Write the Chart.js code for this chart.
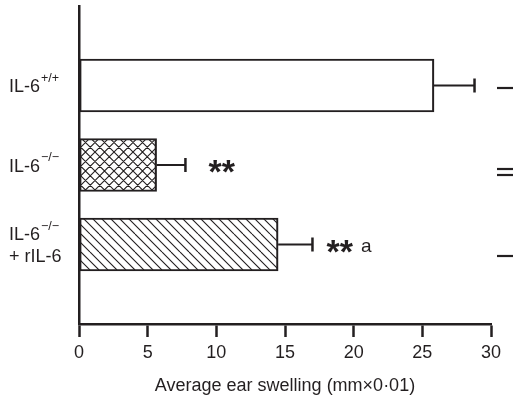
<!DOCTYPE html>
<html>
<head>
<meta charset="utf-8">
<script src="https://cdn.jsdelivr.net/npm/chart.js@4"></script>
<style>
  html, body { margin: 0; padding: 0; background: #fff; }
  #wrap { width: 513px; height: 397px; }
</style>
</head>
<body>
<div id="wrap"><canvas id="myChart"></canvas></div>
<script>
// groups top to bottom
const groups = ['IL-6 +/+', 'IL-6 -/-', 'IL-6 -/- + rIL-6'];
const means = [25.85, 5.65, 14.5];
const errors = [2.95, 2.1, 2.5];
const xTicks = [0, 5, 10, 15, 20, 25, 30];

// label pieces for the y axis (main text, superscript, 2nd line)
const labelMain = ['IL-6', 'IL-6', 'IL-6'];
const labelSup = ['+/+', '\u2212/\u2212', '\u2212/\u2212'];
const labelLine2 = ['', '', '+ rIL-6'];

// significance marks
const sigText = ['', '**', '**'];
const sigX = [null, 9.5, 18.1];
const sigNote = ['', '', 'a'];

const INK = '#231f20';
const FONT = '"Liberation Sans", Arial, sans-serif';

function makePattern(kind) {
  const s = kind === 'cross' ? 9.5 : 9;
  const c = document.createElement('canvas');
  c.width = s * 2; c.height = s * 2;
  const g = c.getContext('2d');
  g.fillStyle = '#fff';
  g.fillRect(0, 0, c.width, c.height);
  g.strokeStyle = INK;
  g.lineWidth = 1.1;
  g.beginPath();
  for (let k = -2; k <= 2; k++) {
    // "\" lines
    g.moveTo(k * s, 0); g.lineTo(k * s + c.width, c.height);
    if (kind === 'cross') {
      g.moveTo(k * s, c.height); g.lineTo(k * s + c.width, 0);
    }
  }
  g.stroke();
  return g.createPattern(c, 'repeat');
}

const fills = ['#ffffff', makePattern('cross'), makePattern('diag')];

const overlay = {
  id: 'overlay',
  afterDatasetsDraw(chart) {
    const ctx = chart.ctx;
    const xs = chart.scales.x, ys = chart.scales.y;
    ctx.save();
    ctx.strokeStyle = INK;
    ctx.fillStyle = INK;
    // error bars
    groups.forEach((g, i) => {
      const y = ys.getPixelForValue(i + 1);
      const x0 = xs.getPixelForValue(means[i]);
      const x1 = xs.getPixelForValue(means[i] + errors[i]);
      ctx.lineWidth = 2;
      ctx.beginPath();
      ctx.moveTo(x0, y); ctx.lineTo(x1, y);
      ctx.stroke();
      ctx.lineWidth = 2.5;
      ctx.beginPath();
      ctx.moveTo(x1, y - 7); ctx.lineTo(x1, y + 7);
      ctx.stroke();
    });
    // significance stars
    groups.forEach((g, i) => {
      if (!sigText[i]) return;
      const y = ys.getPixelForValue(i + 1);
      const x = xs.getPixelForValue(sigX[i]);
      ctx.font = 'bold 34px ' + FONT;
      ctx.textAlign = 'left';
      ctx.textBaseline = 'middle';
      ctx.fillText(sigText[i], x - 1, y + 9);
      const w = ctx.measureText(sigText[i]).width;
      if (sigNote[i]) {
        ctx.font = '19px ' + FONT;
        ctx.fillText(sigNote[i], x + w + 7, y + 2);
      }
    });
    // y labels with superscripts
    groups.forEach((g, i) => {
      const yc = ys.getPixelForValue(i + 1);
      const two = !!labelLine2[i];
      const y1 = two ? yc - 9 : yc + 2;
      ctx.textAlign = 'left';
      ctx.textBaseline = 'middle';
      ctx.font = '18px ' + FONT;
      ctx.fillText(labelMain[i], 9, y1);
      const w = ctx.measureText(labelMain[i]).width;
      ctx.font = '12.5px ' + FONT;
      ctx.fillText(labelSup[i], 9 + w + 1, y1 - 9);
      if (two) {
        ctx.font = '18px ' + FONT;
        ctx.fillText(labelLine2[i], 9, y1 + 22);
      }
    });
    // cut-off marks at the right edge
    ctx.lineWidth = 2.2;
    [88, 169, 175, 256].forEach(y => {
      ctx.beginPath();
      ctx.moveTo(497, y); ctx.lineTo(513, y);
      ctx.stroke();
    });
    ctx.restore();
  }
};

new Chart('myChart', {
  type: 'bar',
  data: {
    labels: ['', ...groups, ''],
    datasets: [{
      data: [null, ...means, null],
      backgroundColor: ['#fff', ...fills, '#fff'],
      borderColor: INK,
      borderWidth: 2.2,
      borderSkipped: false,
      barThickness: 53
    }]
  },
  options: {
    indexAxis: 'y',
    responsive: true,
    maintainAspectRatio: false,
    animation: false,
    layout: { padding: { top: 6, right: 22, left: 0, bottom: 0 } },
    plugins: { legend: { display: false }, tooltip: { enabled: false } },
    scales: {
      y: {
        type: 'category',
        offset: false,
        grid: { display: false },
        border: { color: INK, width: 2.5 },
        ticks: { display: false },
        afterFit(s) { s.width = 79; }
      },
      x: {
        min: 0,
        max: 30,
        afterBuildTicks(s) { s.ticks = xTicks.map(v => ({ value: v })); },
        grid: {
          drawOnChartArea: false,
          drawTicks: true,
          tickLength: 13,
          tickWidth: 2.5,
          color: INK
        },
        border: { color: INK, width: 2.5 },
        ticks: {
          color: INK,
          padding: 5,
          font: { family: FONT, size: 18 }
        },
        title: {
          display: true,
          text: 'Average ear swelling (mm\u00d70\u00b701)',
          color: INK,
          padding: { top: 5, bottom: 0 },
          font: { family: FONT, size: 18 }
        },
        afterFit(s) { s.height = 73; }
      }
    }
  },
  plugins: [overlay]
});
</script>
</body>
</html>
